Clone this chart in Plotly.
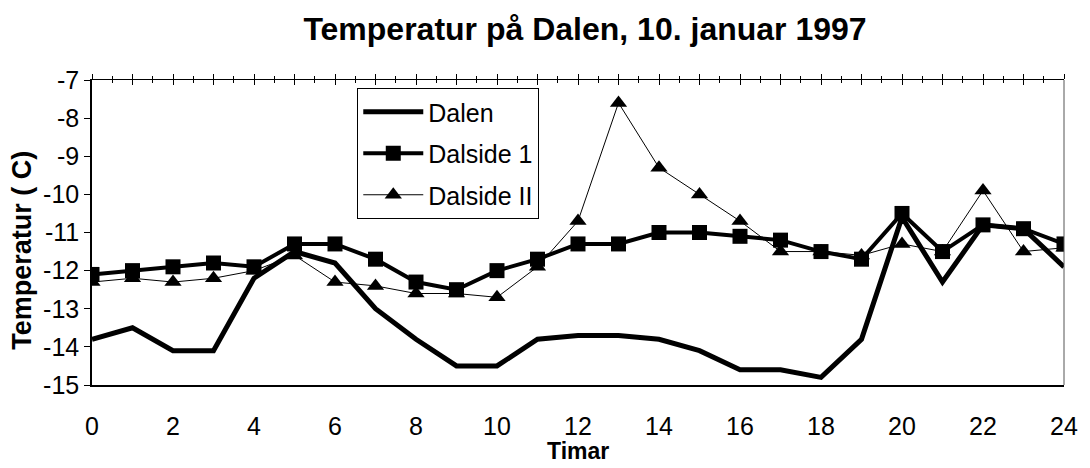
import plotly.graph_objects as go

hours = list(range(25))
tick_vals = list(range(0, 25, 2))
y_ticks = list(range(-15, -6))

dalen = [-13.8, -13.5, -14.1, -14.1, -12.2, -11.5, -11.8, -13.0, -13.8, -14.5, -14.5,
         -13.8, -13.7, -13.7, -13.8, -14.1, -14.6, -14.6, -14.8, -13.8, -10.6, -12.3,
         -10.8, -10.9, -11.9]
dalside1 = [-12.1, -12.0, -11.9, -11.8, -11.9, -11.3, -11.3, -11.7, -12.3, -12.5, -12.0,
            -11.7, -11.3, -11.3, -11.0, -11.0, -11.1, -11.2, -11.5, -11.7, -10.5, -11.5,
            -10.8, -10.9, -11.3]
dalside2 = [-12.3, -12.2, -12.3, -12.2, -12.0, -11.6, -12.3, -12.4, -12.6, -12.6, -12.7,
            -11.9, -10.7, -7.6, -9.3, -10.0, -10.7, -11.5, -11.5, -11.6, -11.3, -11.5,
            -9.9, -11.5, -11.4]

FONT = "Liberation Sans, Arial, sans-serif"
# page has an 8px body margin; figure is sized so the plot lands where the reference has it
W, H = 1082, 460

fig = go.Figure()
fig.add_trace(go.Scatter(x=hours, y=dalen, name="Dalen", mode="lines",
                         line=dict(color="black", width=5), legendgroup="a"))
fig.add_trace(go.Scatter(x=hours, y=dalside1, name="Dalside 1", mode="lines+markers",
                         line=dict(color="black", width=4),
                         marker=dict(symbol="square", size=15, color="black"),
                         legendgroup="b"))
fig.add_trace(go.Scatter(x=hours, y=dalside2, name="Dalside II", mode="lines+markers",
                         line=dict(color="black", width=1),
                         marker=dict(symbol="triangle-up", size=15, color="black"),
                         legendgroup="c"))
# invisible helpers so the top tick axes are drawn
for ax in ("x2", "x3"):
    fig.add_trace(go.Scatter(x=hours, y=dalen, xaxis=ax, mode="lines", opacity=0,
                             showlegend=False, hoverinfo="skip"))

fig.update_layout(
    width=W, height=H,
    paper_bgcolor="white", plot_bgcolor="white",
    margin=dict(l=84, r=16, t=72, b=83),
    font=dict(family=FONT, color="black", size=24),
    title=dict(text="<b>Temperatur på Dalen, 10. januar 1997</b>",
               x=577 / W, xanchor="center", y=1 - 21 / H, yanchor="middle",
               font=dict(size=32, family=FONT)),
    xaxis=dict(range=[0, 24], tickvals=tick_vals, ticktext=[str(v) for v in tick_vals],
               showgrid=False, zeroline=False,
               showline=True, linecolor="black", linewidth=2, ticks="",
               ticklabelstandoff=18, tickfont=dict(size=25)),
    xaxis2=dict(range=[0, 24], overlaying="x", side="top", showgrid=False,
                zeroline=False, showline=True, linecolor="black", linewidth=1,
                showticklabels=False, ticks="outside", dtick=1, tick0=0, ticklen=5,
                tickcolor="black", tickwidth=1,
                minor=dict(ticks="outside", dtick=0.5, tick0=0, ticklen=3,
                           tickcolor="black", showgrid=False)),
    xaxis3=dict(range=[0, 24], overlaying="x", side="top", showgrid=False,
                zeroline=False, showline=False,
                showticklabels=False, ticks="inside", dtick=1, tick0=0, ticklen=5,
                tickcolor="black", tickwidth=1,
                minor=dict(ticks="inside", dtick=0.5, tick0=0, ticklen=3,
                           tickcolor="black", showgrid=False)),
    yaxis=dict(range=[-15, -7], tickvals=y_ticks, ticktext=[str(v) for v in y_ticks],
               showgrid=False, zeroline=False,
               showline=True, linecolor="black", linewidth=1.5, ticks="outside",
               ticklen=6, tickcolor="black", tickfont=dict(size=25)),
    legend=dict(x=(360 - 92) / 982, y=(385 - 88) / 305, xanchor="left", yanchor="top",
                bgcolor="white", bordercolor="black", borderwidth=1,
                font=dict(size=25, family=FONT), tracegroupgap=6,
                itemwidth=60),
    showlegend=True,
)
fig.add_annotation(text="<b>Timar</b>", xref="paper", yref="paper",
                   x=0.5, y=(385 - 451) / 305, xanchor="center", yanchor="middle",
                   showarrow=False, font=dict(size=23, family=FONT))
fig.add_annotation(text="<b>Temperatur ( C)</b>", xref="paper", yref="paper",
                   x=(21 - 92) / 982, y=(385 - 250) / 305, xanchor="center",
                   yanchor="middle", textangle=-90,
                   showarrow=False, font=dict(size=27, family=FONT))
fig.add_shape(type="line", xref="paper", yref="paper", x0=1, x1=1, y0=0, y1=1,
              line=dict(color="#555", width=1))

fig.write_html("out.html")
